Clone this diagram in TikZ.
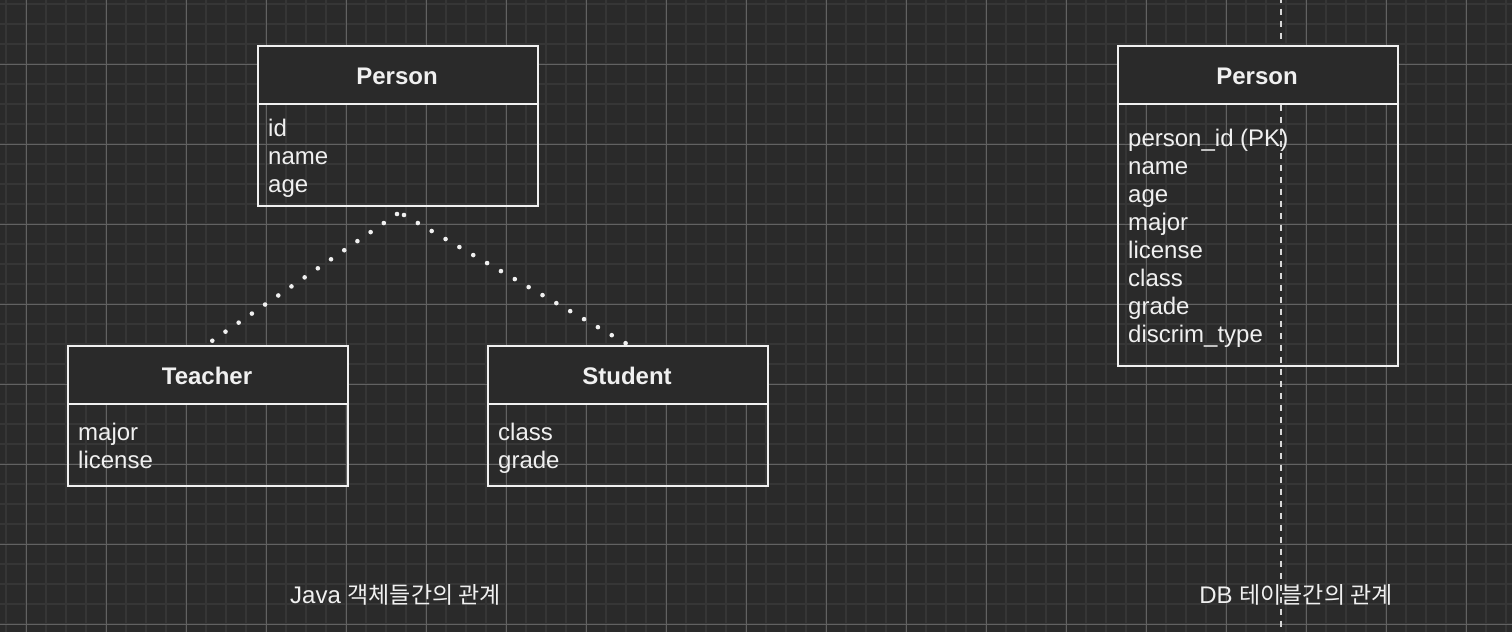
\documentclass[tikz,border=0pt]{standalone}
\usepackage{fontspec}
\setmainfont{Liberation Sans}
\newfontfamily\krfont{Noto Sans CJK KR}
\usetikzlibrary{calc}
\definecolor{bgc}{RGB}{42,42,42}
\definecolor{minorc}{RGB}{54,54,54}
\definecolor{majorc}{RGB}{98,98,98}
\definecolor{fgc}{RGB}{240,240,240}
\begin{document}
\begin{tikzpicture}[x=1pt,y=-1pt,
  hdr/.style={draw=fgc, line width=2pt, fill=bgc, minimum width=280pt, minimum height=58pt, inner sep=0pt, anchor=north west},
  bodybox/.style={draw=fgc, line width=2pt, minimum width=280pt, inner sep=0pt, anchor=north west},
  ttl/.style={text=fgc, font=\fontsize{24}{28}\selectfont\bfseries, inner sep=0pt, anchor=base},
  fld/.style={text=fgc, font=\fontsize{24}{28}\selectfont, inner sep=0pt, anchor=base west},
  lbl/.style={text=fgc, font=\fontsize{24}{28}\selectfont, inner sep=0pt, anchor=base},
  inh/.style={draw=fgc, line width=4.6pt, line cap=round, dash pattern=on 0pt off 16pt},
  sepline/.style={draw=fgc!88!bgc, line width=2pt, dash pattern=on 6pt off 6pt, dash phase=3.3pt}
]
\useasboundingbox (0,0) rectangle (1512,632);
\fill[bgc] (0,0) rectangle (1512,632);
% grid
\foreach \i in {0,...,75} \draw[minorc, line width=2pt] (6+20*\i,0) -- (6+20*\i,632);
\foreach \i in {0,...,31} \draw[minorc, line width=2pt] (0,4+20*\i) -- (1512,4+20*\i);
\foreach \i in {0,...,18} \draw[majorc, line width=1pt] (26+80*\i,0) -- (26+80*\i,632);
\foreach \i in {0,...,7} \draw[majorc, line width=1pt] (0,64+80*\i) -- (1512,64+80*\i);
% separator
\coordinate (st) at (1281,0);
\coordinate (sb) at (1281,632);
\draw[sepline] (st) -- (sb);
% Java Person
\node[hdr] (ph) at (257,45) {};
\node[bodybox, minimum height=102pt] (pb) at (257,103) {};
\node[ttl] (pt) at (397,84) {Person};
\node[fld] (f1) at (268,136) {id};
\node[fld] (f2) at (268,164) {name};
\node[fld] (f3) at (268,192) {age};
% Teacher
\node[hdr] (th) at (67,345) {};
\node[bodybox, minimum height=82pt] (tb) at (67,403) {};
\node[ttl] (tt) at (207,384) {Teacher};
\node[fld] (t1) at (78,440) {major};
\node[fld] (t2) at (78,468) {license};
% Student
\node[hdr] (sh) at (487,345) {};
\node[bodybox, minimum height=82pt] (sbx) at (487,403) {};
\node[ttl] (stt) at (627,384) {Student};
\node[fld] (s1) at (498,440) {class};
\node[fld] (s2) at (498,468) {grade};
% inheritance
\draw[inh] ($(pb.south)+(-1,7)$) -- ($(th.north)+(1,-2)$);
\draw[inh] ($(pb.south)+(6,8)$) -- ($(sh.north)+(-1,-1)$);
% DB Person
\node[hdr] (dh) at (1117,45) {};
\node[bodybox, minimum height=262pt] (db) at (1117,103) {};
\node[ttl] (dt) at (1257,84) {Person};
\node[fld] (d1) at (1128,146) {person\_id (PK)};
\node[fld] (d2) at (1128,174) {name};
\node[fld] (d3) at (1128,202) {age};
\node[fld] (d4) at (1128,230) {major};
\node[fld] (d5) at (1128,258) {license};
\node[fld] (d6) at (1128,286) {class};
\node[fld] (d7) at (1128,314) {grade};
\node[fld] (d8) at (1128,342) {discrim\_type};
% labels
\node[lbl] (l1) at (395.5,603) {Java {\krfont\fontsize{23}{27}\selectfont 객체들간의 관계}};
\node[lbl] (l2) at (1296,603) {DB {\krfont\fontsize{23}{27}\selectfont 테이블간의 관계}};
\end{tikzpicture}
\end{document}
